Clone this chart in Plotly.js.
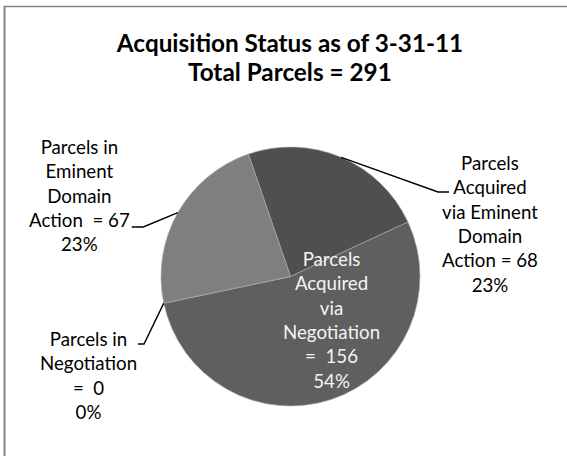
<!DOCTYPE html>
<html>
<head>
<meta charset="utf-8">
<script src="https://cdn.plot.ly/plotly-3.0.1.min.js"></script>
<style>html,body{margin:0;padding:0;background:#fff;}#chart{width:567px;height:456px;}</style>
</head>
<body>
<div id="chart"></div>
<script>
// ---- data ----
const titleLines = ["Acquisition Status as of 3-31-11", "Total Parcels = 291"];
const categories = [
  "Parcels Acquired via Eminent Domain Action",
  "Parcels Acquired via Negotiation",
  "Parcels in Negotiation",
  "Parcels in Eminent Domain Action"
];
const parcelCounts = [68, 156, 0, 67];
const percentLabels = ["23%", "54%", "0%", "23%"];
const labelLines = [
  ["Parcels", "Acquired", "via Eminent", "Domain", "Action = 68", "23%"],
  ["Parcels", "Acquired", "via", "Negotiation", "=\u00a0\u00a0156", "54%"],
  ["Parcels in", "Negotiation", "=\u00a0\u00a00", "0%"],
  ["Parcels in", "Eminent", "Domain", "Action\u00a0\u00a0= 67", "23%"]
];
const sliceColors = ["#4f4f4f", "#5f5f5f", "#6a6a6a", "#7f7f7f"];

// ---- layout constants ----
const W = 567, H = 456;
const cx = 290.5, cy = 276.5, R = 129.5;
const rotation = -19;
const FONT = "Lato, 'Liberation Sans', Arial, sans-serif";
const fs = 18.7;
const tfs = 24.3;

const px = x => x / W;
const py = y => 1 - y / H;

// slice mid angles from data (clockwise from 12 o'clock)
const total = parcelCounts.reduce((a, b) => a + b, 0);
let acc = rotation;
const midAngles = parcelCounts.map(v => {
  const a0 = acc; acc += v / total * 360;
  return (a0 + acc) / 2;
});
const edgePoint = a => {
  const r = a * Math.PI / 180;
  return [cx + R * Math.sin(r), cy - R * Math.cos(r)];
};

// label placement: center x, first baseline y, colour, leader elbow points
const place = [
  {x: 490, b: 169.3, color: "#000", elbow: [[438, 192], [449, 192]]},
  {x: 331.5, b: 265, color: "#f4f4f4", elbow: null},
  {x: 88, b: 345.7, color: "#000", elbow: [[144, 344], [138, 344]]},
  {x: 79, b: 153.3, color: "#000", elbow: [[143.3, 227], [131.7, 227]]}
];

const annotations = place.map((p, i) => ({
  xref: "paper", yref: "paper",
  x: px(p.x), y: py(p.b - 0.98 * fs),
  xanchor: "center", yanchor: "top",
  text: labelLines[i].join("<br>"),
  showarrow: false, align: "center",
  font: {family: FONT, size: fs, color: p.color},
  borderpad: 0
}));
// second title line
annotations.push({
  xref: "paper", yref: "paper",
  x: px(290), y: py(80 - 0.98 * tfs),
  xanchor: "center", yanchor: "top",
  text: "<b>" + titleLines[1] + "</b>",
  showarrow: false,
  font: {family: FONT, size: tfs, color: "#000"},
  borderpad: 0
});

const shapes = [];
place.forEach((p, i) => {
  if (!p.elbow) return;
  const e = edgePoint(midAngles[i]);
  const pts = [e].concat(p.elbow);
  const d = pts.map((q, k) => (k ? "L" : "M") + px(q[0]) + "," + py(q[1])).join(" ");
  shapes.push({type: "path", xref: "paper", yref: "paper", path: d,
    line: {color: "#000", width: 1.4}});
});
// chart area border (left and top edges visible)
shapes.push({type: "line", xref: "paper", yref: "paper", x0: px(4.5), x1: px(4.5), y0: py(6), y1: py(H + 5), line: {color: "#868686", width: 2}});
shapes.push({type: "line", xref: "paper", yref: "paper", x0: px(4), x1: px(W + 5), y0: py(6.5), y1: py(6.5), line: {color: "#868686", width: 1.5}});

const trace = {
  type: "pie",
  labels: categories,
  values: parcelCounts,
  sort: false,
  direction: "clockwise",
  rotation: rotation,
  textinfo: "none",
  hoverinfo: "none",
  showlegend: false,
  marker: {colors: sliceColors, line: {color: "rgba(170,170,170,0.8)", width: 0.8}},
  domain: {x: [px(cx - R), px(cx + R)], y: [py(cy + R), py(cy - R)]}
};

const layout = {
  width: W, height: H,
  margin: {l: 0, r: 0, t: 0, b: 0},
  paper_bgcolor: "#fff", plot_bgcolor: "#fff",
  showlegend: false,
  title: {
    text: "<b>" + titleLines[0] + "</b>",
    font: {family: FONT, size: tfs, color: "#000"},
    x: px(290), xanchor: "center",
    y: py(43.4), yref: "container", yanchor: "middle"
  },
  annotations: annotations,
  shapes: shapes
};

Plotly.newPlot("chart", [trace], layout, {staticPlot: true, displayModeBar: false});
</script>
</body>
</html>
